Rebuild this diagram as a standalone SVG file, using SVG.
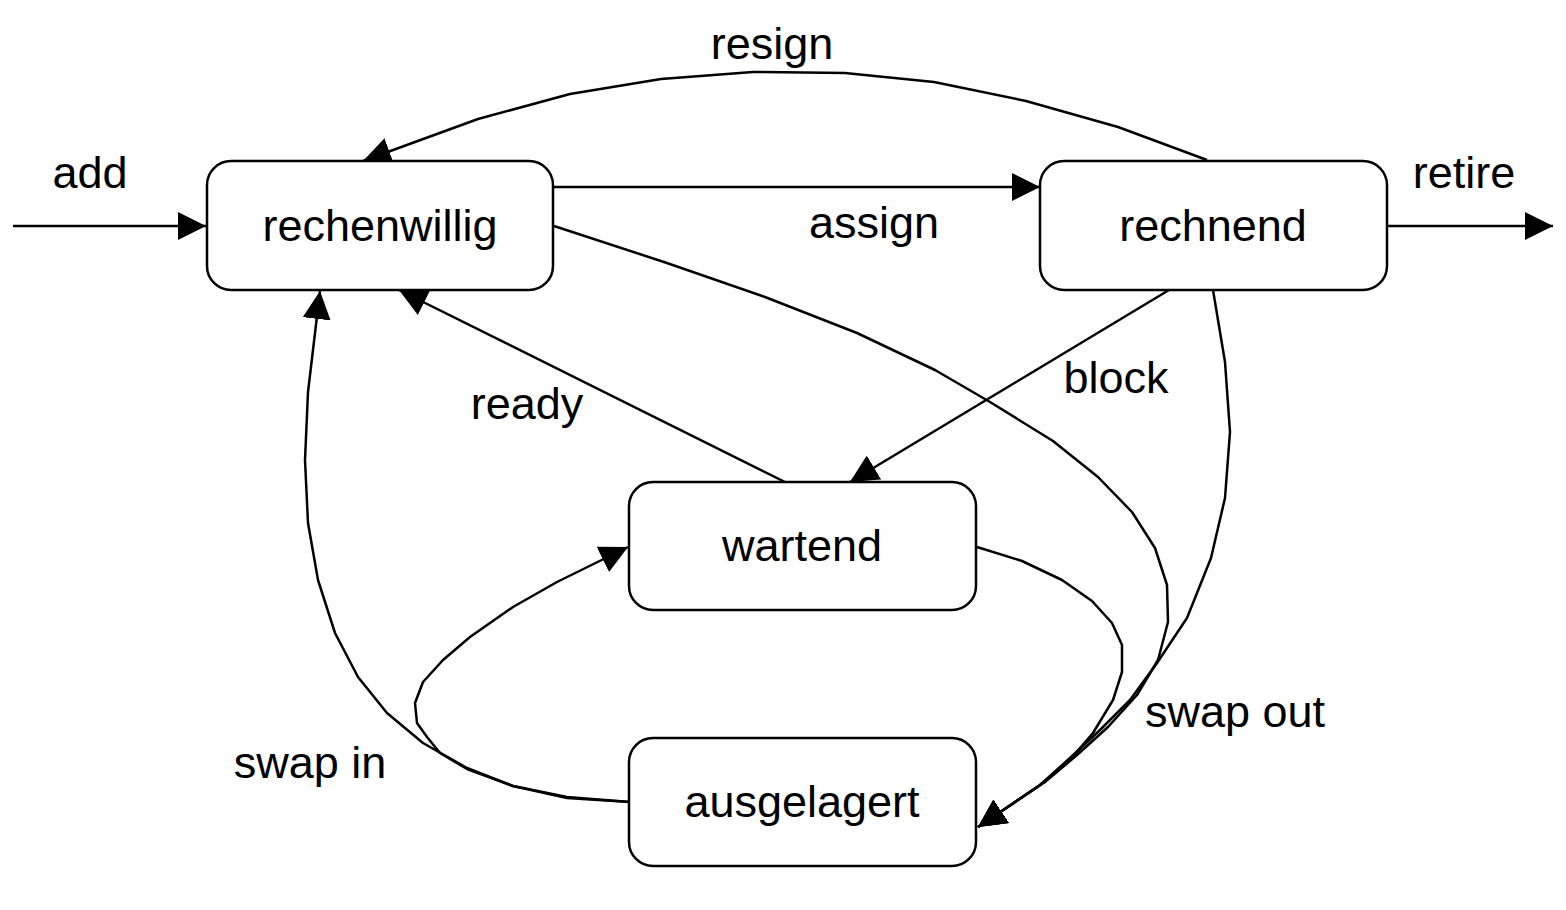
<svg xmlns="http://www.w3.org/2000/svg" width="1566" height="910" viewBox="0 0 1566 910">
<style>
.node rect{fill:#fff;stroke:#000;stroke-width:2.5}
.lbl{font-family:"Liberation Sans",Arial,sans-serif;font-size:45px;fill:#000;text-anchor:middle}
.edge{fill:none;stroke:#000;stroke-width:2.5;stroke-linejoin:round;marker-end:url(#arr)}
</style>
<defs>
<marker id="arr" markerUnits="userSpaceOnUse" viewBox="0 0 28 28" refX="28" refY="14" markerWidth="28" markerHeight="28" orient="auto">
<path d="M0,0 L28,14 L0,28 z" fill="#000"/>
</marker>
</defs>
<rect width="1566" height="910" fill="#fff"/>
<g id="connectors">
<polyline class="edge" points="13,226 206,226"/>
<polyline class="edge" points="1387,226 1553,226"/>
<polyline class="edge" points="554,187 1040,187"/>
<polyline class="edge" points="1207,160 1118,127 1026,101 934,82 845,73 753,72 661,79 570,94 478,119 363,161"/>
<polyline class="edge" points="1169,290 850,482"/>
<polyline class="edge" points="785,482 399,290"/>
<polyline class="edge" points="554,226 664,262 765,297 857,333 935,370 990,402 1053,441 1098,477 1132,512 1155,548 1167,585 1168,622 1158,660 1137,695 1108,727 1077,755 1045,782 978,827"/>
<polyline class="edge" points="1213,290 1225,362 1230,432 1225,498 1211,558 1187,618 1157,663 1130,700 1100,730 1070,758 1040,785 978,827"/>
<polyline class="edge" points="977,547 1022,561 1062,580 1092,601 1112,623 1122,645 1122,672 1113,700 1093,733 1067,763 1040,785 978,827"/>
<polyline class="edge" points="630,802 567,797 513,786 467,768 423,743 387,713 358,677 335,633 318,580 308,523 305,460 308,392 320,291"/>
<polyline class="edge" points="630,802 567,798 513,786 467,769 440,753 427,737 417,723 415,703 423,682 443,660 470,637 513,607 557,582 628,547"/>
</g>
<g id="rechenwillig" class="node"><rect x="207" y="161" width="346" height="129" rx="24"/><text class="lbl" x="380" y="241">rechenwillig</text></g>
<g id="rechnend" class="node"><rect x="1040" y="161" width="347" height="129" rx="24"/><text class="lbl" x="1213" y="241">rechnend</text></g>
<g id="wartend" class="node"><rect x="629" y="482" width="347" height="128" rx="24"/><text class="lbl" x="802" y="561">wartend</text></g>
<g id="ausgelagert" class="node"><rect x="629" y="738" width="347" height="128" rx="24"/><text class="lbl" x="802" y="817">ausgelagert</text></g>
<g id="labels">
<text class="lbl" x="90" y="188">add</text>
<text class="lbl" x="1464" y="188">retire</text>
<text class="lbl" x="772" y="59">resign</text>
<text class="lbl" x="874" y="238">assign</text>
<text class="lbl" x="1116" y="393">block</text>
<text class="lbl" x="527" y="419">ready</text>
<text class="lbl" x="310" y="778">swap in</text>
<text class="lbl" x="1235" y="727">swap out</text>
</g>
</svg>
